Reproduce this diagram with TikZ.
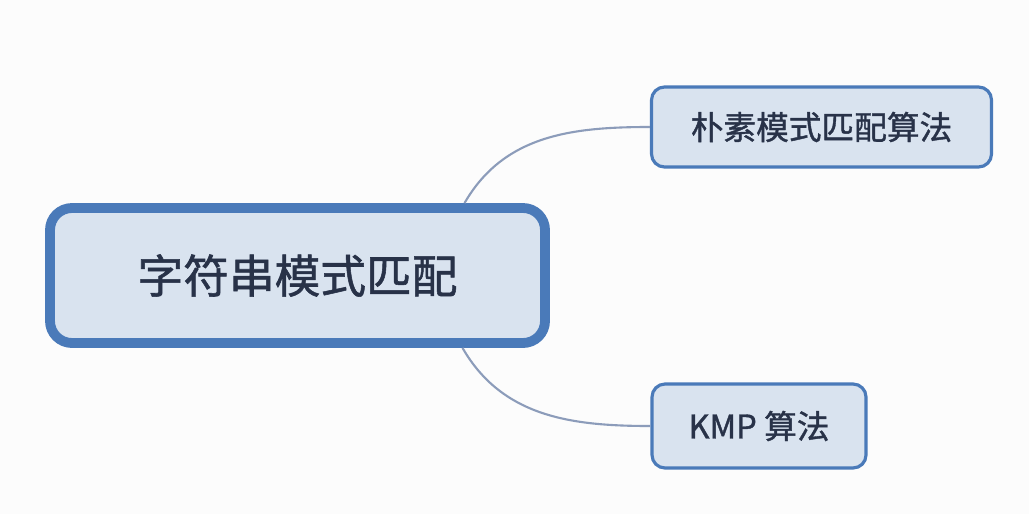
\documentclass[tikz,border=0pt]{standalone}
\usepackage{fontspec}
\newfontfamily\cjk[FakeBold=1.2]{Noto Sans CJK SC}
\usetikzlibrary{positioning,calc}
\definecolor{boxfill}{HTML}{D9E3EF}
\definecolor{boxline}{HTML}{4A7AB9}
\definecolor{textcol}{HTML}{283248}
\definecolor{linkcol}{HTML}{8C9CBA}
\definecolor{paper}{HTML}{FCFCFC}
\tikzset{
	topic/.style={draw=boxline, fill=boxfill, text=textcol, inner sep=0pt, font=\cjk},
	maintopic/.style={topic, line width=2.8pt, rounded corners=0.22cm, minimum width=4.95cm, minimum height=1.35cm},
	subtopic/.style={topic, line width=0.9pt, rounded corners=0.13cm, minimum height=0.8cm},
	link/.style={draw=linkcol, line width=0.6pt}
}

\begin{document}
\begin{tikzpicture}
		\fill[paper] (0,0) rectangle (10.29,-5.14);
		\useasboundingbox (0,0) rectangle (10.29,-5.14);
		\node[maintopic, font=\cjk\fontsize{13}{15}\selectfont] (main) at (2.975,-2.755) {字符串模式匹配};
		\node[subtopic, minimum width=3.4cm, font=\cjk\fontsize{9.3}{11}\selectfont] (naive) at (8.215,-1.27) {朴素模式匹配算法};
		\node[subtopic, minimum width=2.14cm, minimum height=0.84cm, font=\cjk\fontsize{9.3}{11}\selectfont] (kmp) at (7.59,-4.26) {KMP 算法};
		\draw[link] ([xshift=1.67cm]main.north) to[out=60, in=180] (naive.west);
		\draw[link] ([xshift=1.65cm]main.south) to[out=-60, in=180] (kmp.west);
	\end{tikzpicture}
\end{document}
